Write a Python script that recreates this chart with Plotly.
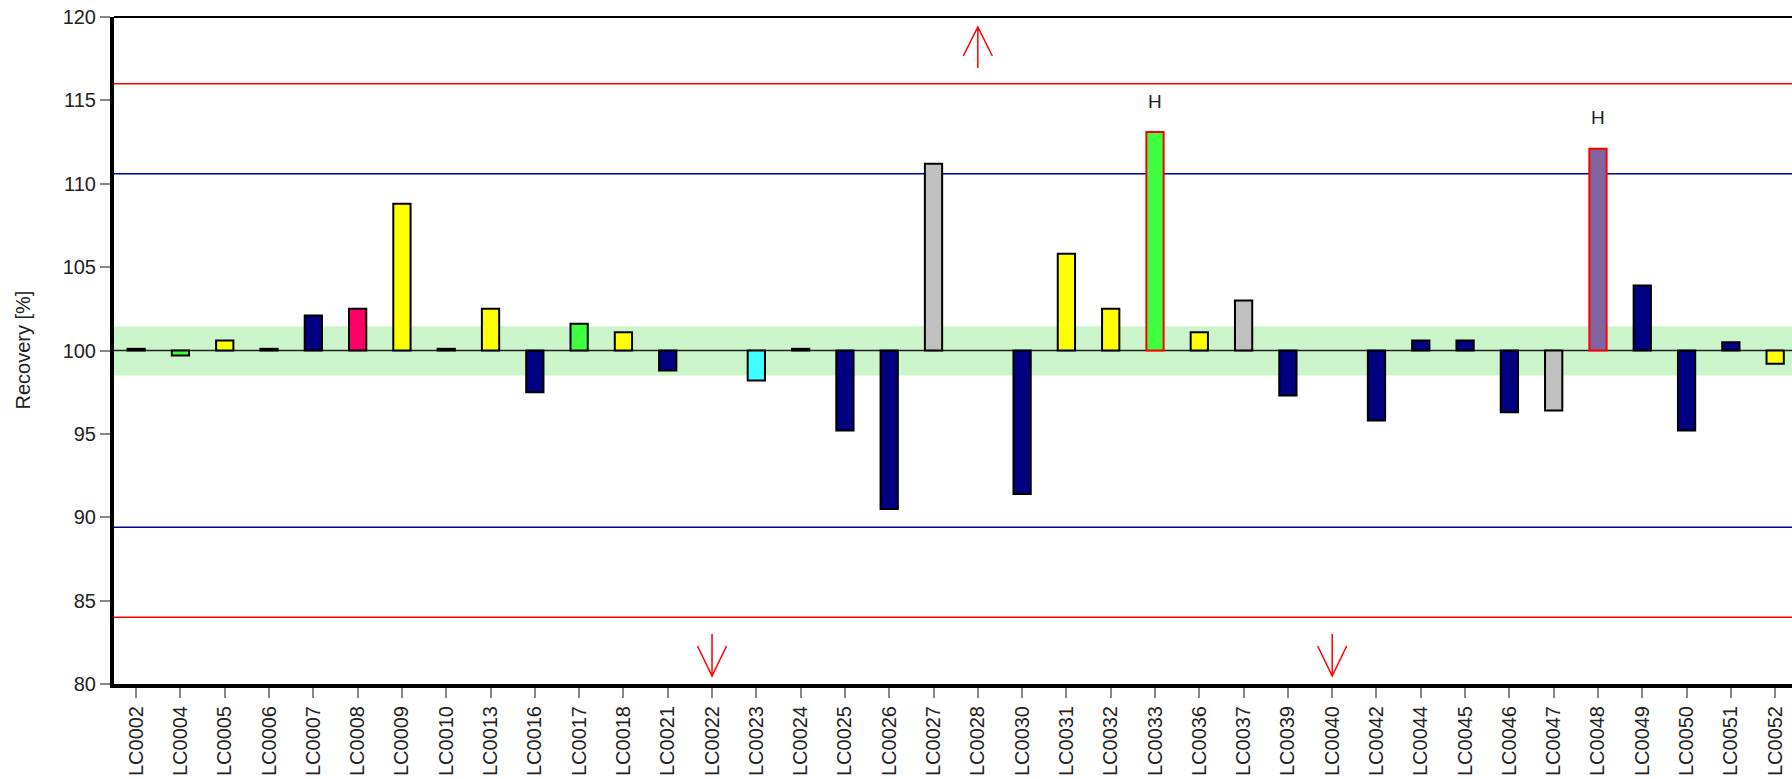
import plotly.graph_objects as go

# ---------------- data ----------------
categories = ["LC0002", "LC0004", "LC0005", "LC0006", "LC0007", "LC0008", "LC0009", "LC0010",
              "LC0013", "LC0016", "LC0017", "LC0018", "LC0021", "LC0022", "LC0023", "LC0024",
              "LC0025", "LC0026", "LC0027", "LC0028", "LC0030", "LC0031", "LC0032", "LC0033",
              "LC0036", "LC0037", "LC0039", "LC0040", "LC0042", "LC0044", "LC0045", "LC0046",
              "LC0047", "LC0048", "LC0049", "LC0050", "LC0051", "LC0052"]

recovery = [100.1, 99.7, 100.6, 100.1, 102.1, 102.5, 108.8, 100.1,
            102.5, 97.5, 101.6, 101.1, 98.8, None, 98.2, 100.1,
            95.2, 90.5, 111.2, None, 91.4, 105.8, 102.5, 113.1,
            101.1, 103.0, 97.3, None, 95.8, 100.6, 100.6, 96.3,
            96.4, 112.1, 103.9, 95.2, 100.5, 99.2]

bar_colors = ["#000080", "#40ff40", "#ffff00", "#000080", "#000080", "#ff0066", "#ffff00", "#000080",
              "#ffff00", "#000080", "#40ff40", "#ffff00", "#000080", "#000080", "#40ffff", "#000080",
              "#000080", "#000080", "#c0c0c0", "#000080", "#000080", "#ffff00", "#ffff00", "#40ff40",
              "#ffff00", "#c0c0c0", "#000080", "#000080", "#000080", "#000080", "#000080", "#000080",
              "#c0c0c0", "#8064a0", "#000080", "#000080", "#000080", "#ffff00"]

high_flag = ["LC0033", "LC0048"]          # labelled "H"
out_above = ["LC0028"]                     # value above the axis range
out_below = ["LC0022", "LC0040"]           # value below the axis range

target = 100.0
band = (98.5, 101.45)                      # green acceptance band
warning_limits = (89.4, 110.6)             # navy lines
action_limits = (84.0, 116.0)              # red lines
y_range = (80, 120)
y_ticks = [80, 85, 90, 95, 100, 105, 110, 115, 120]

# ---------------- figure ----------------
FONT = "Liberation Sans, Arial, sans-serif"

deltas = [None if v is None else v - target for v in recovery]
outline_colors = ["#ff0000" if c in high_flag else "#000000" for c in categories]

fig = go.Figure()
fig.add_trace(go.Bar(
    x=categories, y=deltas, base=target,
    marker=dict(color=bar_colors, line=dict(color=outline_colors, width=2)),
    width=0.39, showlegend=False,
))

shapes = []
shapes.append(dict(type="rect", xref="paper", yref="y", x0=0, x1=1, y0=band[0], y1=band[1],
                   fillcolor="#ccf5cc", line=dict(width=0), layer="below"))
shapes.append(dict(type="line", xref="paper", yref="y", x0=0, x1=1, y0=target, y1=target,
                   line=dict(color="#222222", width=1.5), layer="below"))
for lim in warning_limits:
    shapes.append(dict(type="line", xref="paper", yref="y", x0=0, x1=1, y0=lim, y1=lim,
                       line=dict(color="#0000a0", width=1.5), layer="below"))
for lim in action_limits:
    shapes.append(dict(type="line", xref="paper", yref="y", x0=0, x1=1, y0=lim, y1=lim,
                       line=dict(color="#ff0000", width=1.5), layer="below"))
shapes.append(dict(type="line", xref="paper", yref="paper", x0=0, x1=1, y0=1, y1=1,
                   line=dict(color="#000000", width=2)))
for c in out_above:
    shapes.append(dict(type="path", xref="x", yref="y", xsizemode="pixel", ysizemode="pixel",
                       xanchor=categories.index(c), yanchor=y_range[1],
                       path="M 0,-51 L 0,-10 M -14.5,-39 L 0,-10 L 14.5,-39",
                       line=dict(color="#ff0000", width=1.5)))
for c in out_below:
    shapes.append(dict(type="path", xref="x", yref="y", xsizemode="pixel", ysizemode="pixel",
                       xanchor=categories.index(c), yanchor=y_range[0],
                       path="M 0,50 L 0,8 M -14.5,38 L 0,8 L 14.5,38",
                       line=dict(color="#ff0000", width=1.5)))

annotations = []
for c in high_flag:
    v = recovery[categories.index(c)]
    annotations.append(dict(x=c, y=v, xref="x", yref="y", text="H", showarrow=False,
                            yanchor="middle", yshift=31,
                            font=dict(family=FONT, size=19, color="#222222")))
annotations.append(dict(xref="paper", yref="paper", x=0, y=0.5, xshift=-92, text="Recovery [%]",
                        textangle=-90, showarrow=False, xanchor="center", yanchor="middle",
                        font=dict(family=FONT, size=20, color="#222222")))

fig.update_layout(
    width=1792, height=779,
    margin=dict(l=114, r=0, t=17, b=95, autoexpand=False),
    paper_bgcolor="white", plot_bgcolor="white",
    font=dict(family=FONT, size=20, color="#222222"),
    shapes=shapes, annotations=annotations,
)
fig.update_xaxes(
    type="category", categoryorder="array", categoryarray=categories,
    range=[-0.5, 37.38], tickangle=-90, ticklabeloverflow="allow", automargin=False,
    ticks="outside", ticklen=10, tickwidth=2, tickcolor="#888888",
    showline=True, linewidth=4, linecolor="#000000", showgrid=False, zeroline=False,
    tickfont=dict(family=FONT, size=20, color="#222222"),
)
fig.update_yaxes(
    range=list(y_range), tickvals=y_ticks, ticklabeloverflow="allow", automargin=False,
    ticks="outside", ticklen=10, tickwidth=2, tickcolor="#888888",
    showline=True, linewidth=4, linecolor="#000000", showgrid=False, zeroline=False,
    tickfont=dict(family=FONT, size=20, color="#222222"),
)

fig.write_html("out.html",
               config={"displayModeBar": False},
               post_script="document.body.style.margin='0';document.body.style.overflow='hidden';")
